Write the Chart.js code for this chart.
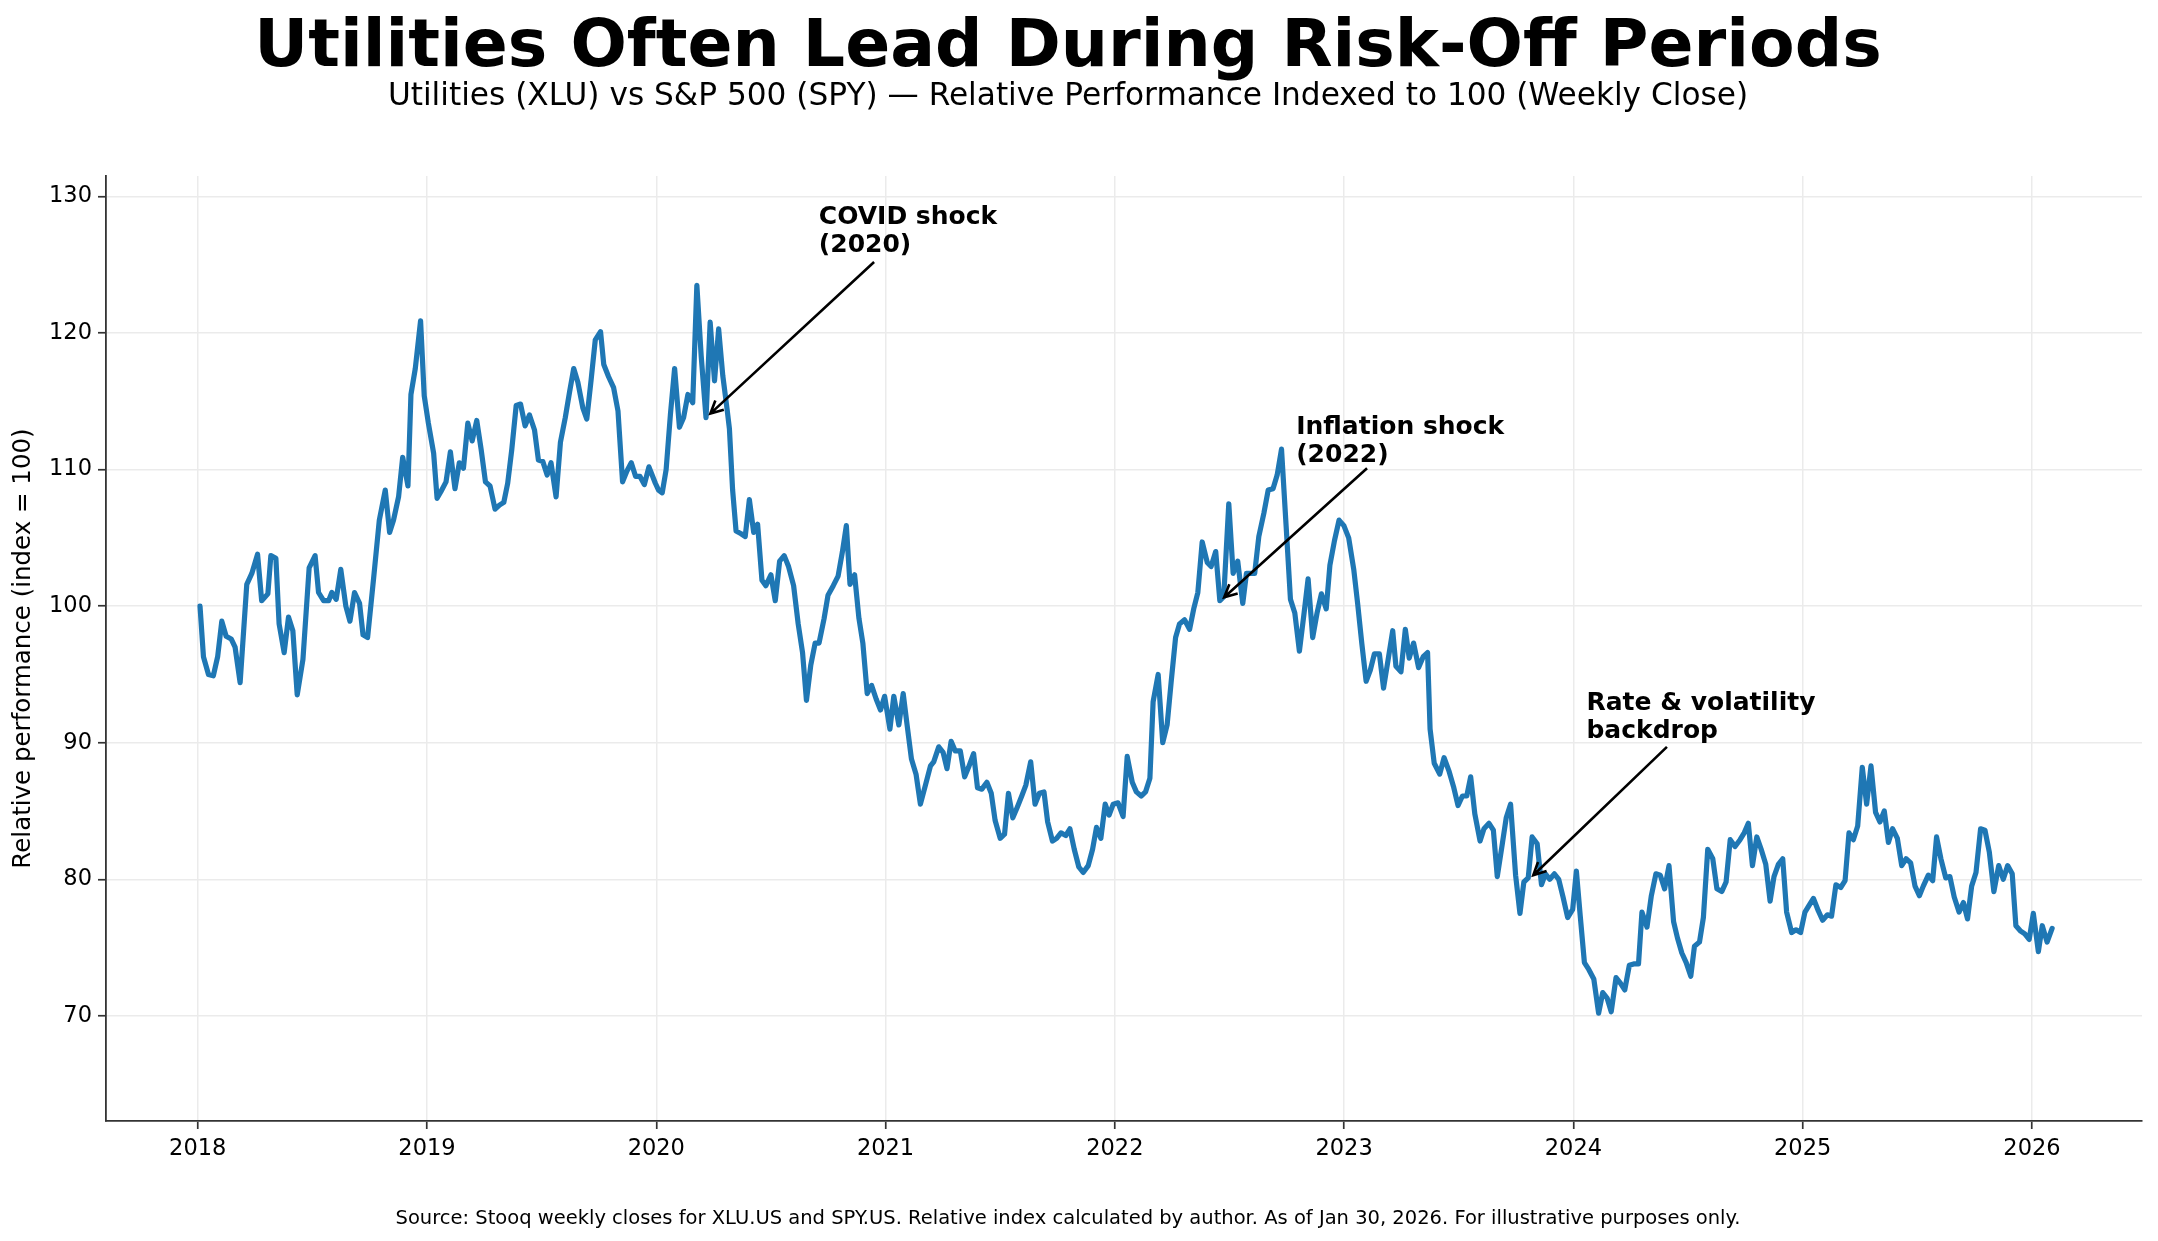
<!DOCTYPE html>
<html>
<head>
<meta charset="utf-8">
<title>Utilities vs S&P 500</title>
<script src="https://cdn.jsdelivr.net/npm/chart.js@4.4.1/dist/chart.umd.min.js"></script>
<style>
  html, body { margin: 0; padding: 0; background: #fff; }
  canvas { display: block; }
</style>
</head>
<body>
<canvas id="chart" width="2158" height="1241" style="width:2158px;height:1241px"></canvas>
<script>
// weekly closes, as decimal years
const dates = [
  2018.010, 2018.025, 2018.047, 2018.068, 2018.087, 2018.105, 2018.124, 2018.146, 2018.163, 2018.185, 2018.214, 2018.236, 2018.261, 2018.279, 2018.306, 2018.319, 2018.341, 2018.355, 2018.377, 2018.396, 2018.415, 2018.434, 2018.459, 2018.486, 2018.512, 2018.527, 2018.549, 2018.571, 2018.585, 2018.604, 2018.624, 2018.646, 2018.664, 2018.684, 2018.706, 2018.721, 2018.741, 2018.767, 2018.792, 2018.818, 2018.837, 2018.854, 2018.876, 2018.894, 2018.917, 2018.930, 2018.949, 2018.972, 2018.988,
  2019.006, 2019.029, 2019.044, 2019.061, 2019.083, 2019.102, 2019.122, 2019.141, 2019.159, 2019.178, 2019.197, 2019.217, 2019.236, 2019.255, 2019.275, 2019.297, 2019.316, 2019.335, 2019.352, 2019.370, 2019.389, 2019.408, 2019.428, 2019.447, 2019.469, 2019.486, 2019.505, 2019.524, 2019.541, 2019.563, 2019.582, 2019.603, 2019.622, 2019.640, 2019.658, 2019.680, 2019.697, 2019.716, 2019.734, 2019.757, 2019.771, 2019.792, 2019.814, 2019.833, 2019.853, 2019.872, 2019.891, 2019.910, 2019.929, 2019.948, 2019.968,
  2019.996, 2020.010, 2020.026, 2020.043, 2020.062, 2020.080, 2020.101, 2020.119, 2020.138, 2020.159, 2020.177, 2020.196, 2020.217, 2020.235, 2020.254, 2020.272, 2020.290, 2020.309, 2020.319, 2020.333, 2020.348, 2020.370, 2020.388, 2020.406, 2020.425, 2020.442, 2020.461, 2020.478, 2020.500, 2020.519, 2020.538, 2020.558, 2020.577, 2020.599, 2020.619, 2020.638, 2020.655, 2020.674, 2020.693, 2020.710, 2020.732, 2020.749, 2020.772, 2020.793, 2020.812, 2020.829, 2020.845, 2020.865, 2020.884, 2020.901, 2020.920, 2020.939, 2020.959, 2020.978, 2020.996,
  2021.019, 2021.036, 2021.058, 2021.077, 2021.094, 2021.113, 2021.133, 2021.152, 2021.174, 2021.196, 2021.210, 2021.232, 2021.251, 2021.268, 2021.286, 2021.304, 2021.326, 2021.345, 2021.362, 2021.384, 2021.401, 2021.420, 2021.442, 2021.461, 2021.478, 2021.500, 2021.519, 2021.536, 2021.555, 2021.575, 2021.594, 2021.612, 2021.633, 2021.652, 2021.671, 2021.691, 2021.707, 2021.728, 2021.746, 2021.765, 2021.786, 2021.804, 2021.823, 2021.843, 2021.862, 2021.884, 2021.903, 2021.920, 2021.939, 2021.958, 2021.975, 2021.993,
  2022.014, 2022.036, 2022.054, 2022.076, 2022.094, 2022.115, 2022.134, 2022.153, 2022.167, 2022.189, 2022.209, 2022.228, 2022.246, 2022.265, 2022.282, 2022.304, 2022.326, 2022.344, 2022.362, 2022.381, 2022.403, 2022.420, 2022.440, 2022.458, 2022.475, 2022.497, 2022.516, 2022.536, 2022.558, 2022.574, 2022.592, 2022.610, 2022.628, 2022.650, 2022.669, 2022.690, 2022.708, 2022.727, 2022.747, 2022.766, 2022.785, 2022.805, 2022.824, 2022.843, 2022.863, 2022.882, 2022.901, 2022.922, 2022.938, 2022.958, 2022.978, 2022.999,
  2023.020, 2023.042, 2023.059, 2023.077, 2023.096, 2023.114, 2023.132, 2023.154, 2023.172, 2023.193, 2023.212, 2023.226, 2023.248, 2023.267, 2023.284, 2023.303, 2023.325, 2023.345, 2023.364, 2023.375, 2023.393, 2023.417, 2023.436, 2023.458, 2023.477, 2023.497, 2023.516, 2023.535, 2023.552, 2023.570, 2023.593, 2023.610, 2023.632, 2023.651, 2023.668, 2023.690, 2023.707, 2023.726, 2023.748, 2023.767, 2023.784, 2023.803, 2023.820, 2023.842, 2023.861, 2023.878, 2023.897, 2023.917, 2023.936, 2023.955, 2023.975, 2023.997,
  2024.013, 2024.030, 2024.048, 2024.067, 2024.089, 2024.110, 2024.128, 2024.147, 2024.165, 2024.186, 2024.205, 2024.224, 2024.244, 2024.263, 2024.284, 2024.299, 2024.321, 2024.340, 2024.360, 2024.379, 2024.398, 2024.417, 2024.437, 2024.454, 2024.473, 2024.492, 2024.512, 2024.528, 2024.550, 2024.567, 2024.586, 2024.608, 2024.626, 2024.647, 2024.666, 2024.684, 2024.705, 2024.727, 2024.745, 2024.763, 2024.781, 2024.800, 2024.819, 2024.839, 2024.858, 2024.875, 2024.894, 2024.913, 2024.930, 2024.952, 2024.971, 2024.991,
  2025.010, 2025.032, 2025.047, 2025.068, 2025.087, 2025.108, 2025.126, 2025.145, 2025.166, 2025.185, 2025.202, 2025.221, 2025.240, 2025.260, 2025.279, 2025.298, 2025.318, 2025.337, 2025.356, 2025.374, 2025.392, 2025.413, 2025.432, 2025.451, 2025.471, 2025.490, 2025.509, 2025.526, 2025.548, 2025.567, 2025.584, 2025.603, 2025.624, 2025.642, 2025.661, 2025.682, 2025.701, 2025.719, 2025.737, 2025.756, 2025.776, 2025.795, 2025.814, 2025.834, 2025.855, 2025.875, 2025.894, 2025.914, 2025.930, 2025.951, 2025.969, 2025.988,
  2026.006, 2026.028, 2026.045, 2026.066, 2026.088
];

// XLU / SPY relative index (start = 100)
const relIndex = [
  100.0, 96.3, 95.0, 94.9, 96.3, 98.9, 97.8, 97.6, 97.0, 94.4, 101.6, 102.4, 103.8, 100.4, 100.9, 103.7, 103.5, 98.7, 96.6, 99.2, 98.2, 93.5, 96.1, 102.8, 103.7, 101.0, 100.4, 100.4, 101.0, 100.5, 102.7, 100.0, 98.9, 101.0, 100.2, 97.9, 97.7, 102.0, 106.3, 108.5, 105.4, 106.3, 108.0, 110.9, 108.8, 115.5, 117.4, 120.9, 115.4,
  113.4, 111.2, 107.9, 108.4, 109.1, 111.3, 108.6, 110.5, 110.1, 113.4, 112.1, 113.6, 111.5, 109.1, 108.8, 107.1, 107.4, 107.6, 109.0, 111.5, 114.7, 114.8, 113.2, 114.0, 112.9, 110.7, 110.6, 109.6, 110.5, 108.0, 112.0, 113.8, 115.7, 117.4, 116.4, 114.5, 113.7, 116.6, 119.5, 120.1, 117.7, 116.8, 116.0, 114.3, 109.1, 109.9, 110.5, 109.5, 109.5, 108.9, 110.2,
  109.0, 108.5, 108.3, 110.0, 114.1, 117.4, 113.1, 113.8, 115.5, 114.9, 123.5, 118.3, 113.8, 120.8, 116.5, 120.3, 116.9, 114.4, 113.0, 108.5, 105.5, 105.3, 105.1, 107.8, 105.4, 106.0, 101.9, 101.5, 102.3, 100.4, 103.3, 103.7, 102.9, 101.5, 98.7, 96.6, 93.1, 95.7, 97.3, 97.3, 99.1, 100.8, 101.5, 102.2, 104.0, 105.9, 101.6, 102.3, 99.1, 97.3, 93.6, 94.2, 93.2, 92.4, 93.4,
  91.0, 93.4, 91.3, 93.6, 91.3, 88.8, 87.7, 85.5, 86.9, 88.3, 88.6, 89.7, 89.3, 88.1, 90.1, 89.4, 89.4, 87.5, 88.2, 89.2, 86.7, 86.6, 87.1, 86.3, 84.3, 83.0, 83.3, 86.3, 84.5, 85.3, 86.1, 86.9, 88.6, 85.5, 86.3, 86.4, 84.2, 82.8, 83.0, 83.4, 83.2, 83.7, 82.2, 80.9, 80.5, 81.0, 82.2, 83.8, 83.0, 85.5, 84.7, 85.5,
  85.6, 84.6, 89.0, 87.1, 86.4, 86.1, 86.4, 87.4, 93.0, 95.0, 90.0, 91.3, 94.5, 97.7, 98.7, 99.0, 98.3, 99.8, 101.0, 104.7, 103.2, 102.9, 104.0, 100.4, 100.7, 107.5, 102.4, 103.3, 100.2, 102.4, 102.4, 102.4, 105.1, 106.8, 108.5, 108.6, 109.6, 111.5, 105.9, 100.5, 99.5, 96.7, 99.3, 102.0, 97.7, 99.5, 100.9, 99.8, 103.0, 104.8, 106.3, 105.9,
  105.0, 102.7, 100.2, 97.3, 94.5, 95.3, 96.5, 96.5, 94.0, 96.2, 98.2, 95.6, 95.2, 98.3, 96.2, 97.3, 95.5, 96.3, 96.6, 91.0, 88.5, 87.7, 88.9, 87.9, 86.8, 85.4, 86.1, 86.1, 87.5, 84.8, 82.8, 83.7, 84.1, 83.6, 80.2, 82.6, 84.5, 85.5, 80.3, 77.5, 79.8, 80.1, 83.1, 82.6, 79.6, 80.4, 80.0, 80.4, 80.0, 78.7, 77.2, 77.8,
  80.6, 77.3, 73.9, 73.4, 72.7, 70.2, 71.7, 71.3, 70.3, 72.8, 72.4, 71.9, 73.7, 73.8, 73.8, 77.6, 76.5, 78.8, 80.4, 80.3, 79.3, 81.0, 76.9, 75.7, 74.6, 73.9, 72.9, 75.1, 75.4, 77.2, 82.2, 81.5, 79.3, 79.1, 79.8, 82.9, 82.4, 82.9, 83.4, 84.1, 81.0, 83.1, 82.2, 81.1, 78.4, 80.2, 81.1, 81.5, 77.6, 76.1, 76.3, 76.1,
  77.6, 78.2, 78.6, 77.7, 77.0, 77.4, 77.3, 79.6, 79.4, 79.9, 83.4, 82.9, 83.9, 88.2, 85.5, 88.3, 84.9, 84.2, 85.0, 82.7, 83.7, 83.0, 81.0, 81.5, 81.2, 79.5, 78.8, 79.5, 80.3, 79.9, 83.1, 81.5, 80.1, 80.2, 78.7, 77.6, 78.3, 77.1, 79.5, 80.5, 83.7, 83.6, 82.0, 79.1, 81.0, 80.0, 81.0, 80.4, 76.6, 76.2, 76.0, 75.6,
  77.5, 74.7, 76.6, 75.4, 76.4
];

const yearTicks = [2018, 2019, 2020, 2021, 2022, 2023, 2024, 2025, 2026];
const valueTicks = [70, 80, 90, 100, 110, 120, 130];

// annotations: label lines, text top-left, arrow start, arrow tip (data coords)
const annLabels = [['COVID shock', '(2020)'], ['Inflation shock', '(2022)'], ['Rate & volatility', 'backdrop']];
const annText = [[2020.709, 129.3], [2022.791, 113.9], [2024.057, 93.7]];
const annFrom = [[2020.950, 125.2], [2023.100, 110.1], [2024.408, 89.7]];
const annTo = [[2020.236, 114.1], [2022.477, 100.65], [2023.825, 80.3]];

const FONT = '"DejaVu Sans", "Liberation Sans", sans-serif';
const SPINE = '#333';

const points = dates.map((d, i) => ({ x: d, y: relIndex[i] }));

// titles, axis label, footer and arrow notes
const decor = {
  id: 'decor',
  afterDatasetsDraw(chart) {
    const { ctx, scales: { x, y } } = chart;
    ctx.save();
    ctx.fillStyle = '#000';
    ctx.strokeStyle = '#000';
    ctx.font = 'bold 25px ' + FONT;
    ctx.textAlign = 'left';
    ctx.textBaseline = 'alphabetic';
    annLabels.forEach((lines, i) => {
      const tx = x.getPixelForValue(annText[i][0]);
      const ty = y.getPixelForValue(annText[i][1]);
      lines.forEach((t, k) => ctx.fillText(t, tx, ty + 18 + k * 28));

      const fx = x.getPixelForValue(annFrom[i][0]), fy = y.getPixelForValue(annFrom[i][1]);
      const px = x.getPixelForValue(annTo[i][0]), py = y.getPixelForValue(annTo[i][1]);
      ctx.lineWidth = 2.6;
      ctx.lineCap = 'butt';
      ctx.beginPath();
      ctx.moveTo(fx, fy);
      ctx.lineTo(px, py);
      const a = Math.atan2(py - fy, px - fx);
      const L = 14, th = 0.46;
      ctx.moveTo(px - L * Math.cos(a - th), py - L * Math.sin(a - th));
      ctx.lineTo(px, py);
      ctx.lineTo(px - L * Math.cos(a + th), py - L * Math.sin(a + th));
      ctx.stroke();
    });
    ctx.restore();
  },
  afterDraw(chart) {
    const { ctx, chartArea } = chart;
    ctx.save();
    ctx.fillStyle = '#000';
    ctx.textAlign = 'center';
    ctx.textBaseline = 'alphabetic';
    ctx.font = 'bold 66.4px ' + FONT;
    ctx.fillText('Utilities Often Lead During Risk-Off Periods', 1068, 66);
    ctx.font = '31.2px ' + FONT;
    ctx.fillText('Utilities (XLU) vs S&P 500 (SPY) \u2014 Relative Performance Indexed to 100 (Weekly Close)', 1068, 105);
    ctx.font = '19.5px ' + FONT;
    ctx.fillText('Source: Stooq weekly closes for XLU.US and SPY.US. Relative index calculated by author. As of Jan 30, 2026. For illustrative purposes only.', 1068, 1224);

    ctx.translate(24, (chartArea.top + chartArea.bottom) / 2);
    ctx.rotate(-Math.PI / 2);
    ctx.textBaseline = 'middle';
    ctx.font = '24.5px ' + FONT;
    ctx.fillText('Relative performance (index = 100)', 0, 0);
    ctx.restore();
  }
};

const gridStyle = { color: '#ebebeb', lineWidth: 1.5, tickColor: SPINE, tickLength: 8, tickWidth: 1.7 };
const tickFont = { family: FONT, size: 22.5 };

new Chart(document.getElementById('chart'), {
  type: 'line',
  data: {
    datasets: [{
      label: 'XLU / SPY',
      data: points,
      borderColor: '#1f77b4',
      borderWidth: 5.2,
      pointRadius: 0,
      tension: 0,
      fill: false,
      borderJoinStyle: 'round',
      borderCapStyle: 'round'
    }]
  },
  options: {
    responsive: false,
    animation: false,
    devicePixelRatio: 1,
    layout: { padding: { top: 176, right: 16, bottom: 0, left: 0 } },
    plugins: { legend: { display: false }, tooltip: { enabled: false }, title: { display: false } },
    scales: {
      x: {
        type: 'linear',
        min: 2017.6,
        max: 2026.48,
        afterBuildTicks: s => { s.ticks = yearTicks.map(v => ({ value: v })); },
        afterFit: s => { s.height = 120; },
        grid: gridStyle,
        border: { display: true, color: SPINE, width: 1.8 },
        ticks: { color: '#000', font: tickFont, padding: 7, maxRotation: 0, autoSkip: false, callback: v => String(v) }
      },
      y: {
        type: 'linear',
        min: 62.3,
        max: 131.5,
        afterBuildTicks: s => { s.ticks = valueTicks.map(v => ({ value: v })); },
        afterFit: s => { s.width = 106; },
        grid: gridStyle,
        border: { display: true, color: SPINE, width: 1.8 },
        ticks: { color: '#000', font: tickFont, padding: 6, autoSkip: false, callback: v => String(v) }
      }
    }
  },
  plugins: [decor]
});
</script>
</body>
</html>
